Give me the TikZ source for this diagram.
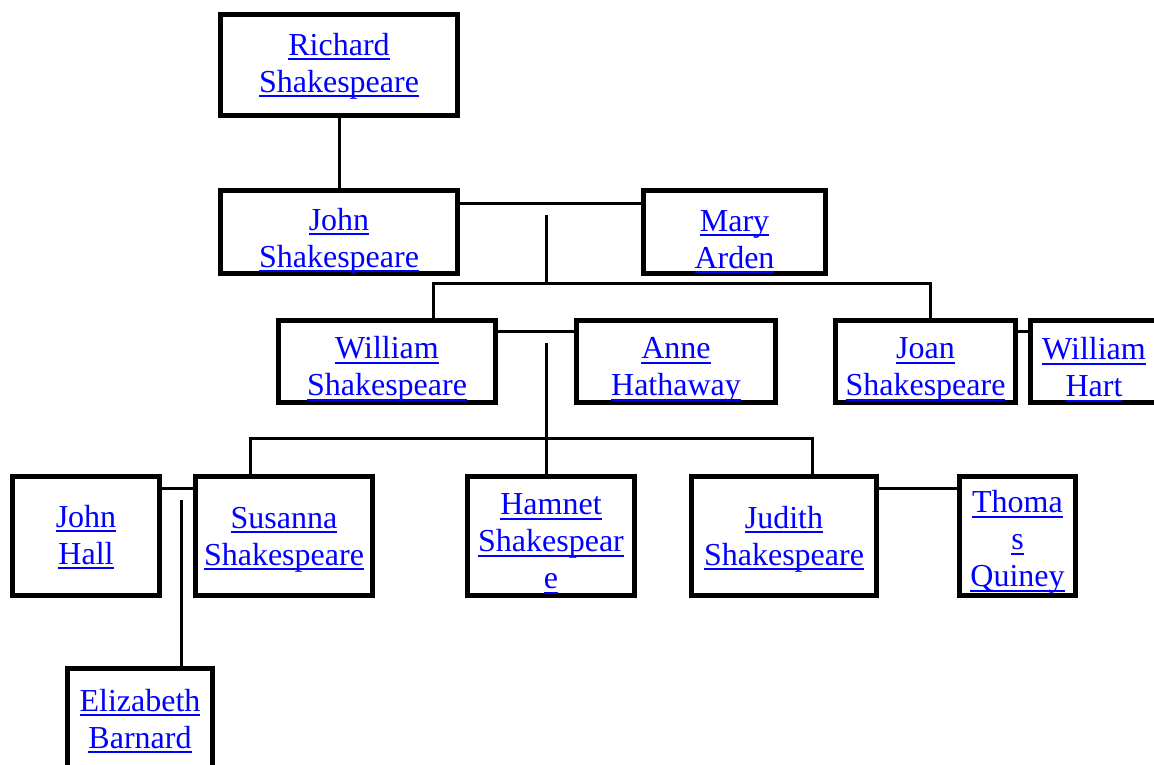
\documentclass[tikz,border=0pt]{standalone}
\usepackage{fontspec}
\setmainfont{Liberation Serif}

\tikzset{
  person/.style={draw,line width=5pt,align=center,text=blue,inner sep=0pt,
    font=\fontsize{32}{37}\selectfont},
  tie/.style={line width=3pt}
}
\newcommand{\lk}[1]{\setbox0\hbox{#1}\rlap{\rule[-5pt]{\wd0}{2pt}}\box0}
\newcommand{\topgap}[1]{\rule{0pt}{#1pt}}

\begin{document}
\begin{tikzpicture}[x=1pt,y=-1pt]
  \useasboundingbox (0,0) rectangle (1154,765);
  % persons
  \node[person,minimum width=237pt,minimum height=101pt] (richard) at (339,65) {\topgap{24}\lk{Richard}\\\lk{Shakespeare}};
  \node[person,minimum width=237pt,minimum height=83pt] (john) at (339,232) {\topgap{40}\lk{John}\\\lk{Shakespeare}};
  \node[person,minimum width=182pt,minimum height=83pt] (mary) at (734.5,232) {\topgap{40}\lk{Mary}\\\lk{Arden}};
  \node[person,minimum width=217pt,minimum height=82pt] (william) at (387,361.5) {\topgap{38}\lk{William}\\\lk{Shakespeare}};
  \node[person,minimum width=199pt,minimum height=82pt] (anne) at (676,361.5) {\topgap{38}\lk{Anne}\\\lk{Hathaway}};
  \node[person,minimum width=180pt,minimum height=82pt] (joan) at (925.5,361.5) {\topgap{38}\lk{Joan}\\\lk{Shakespeare}};
  \node[person,minimum width=127pt,minimum height=82pt] (hart) at (1094,361.5) {\topgap{38}\lk{William}\\\lk{Hart}};
  \node[person,minimum width=147pt,minimum height=119pt] (hall) at (86,536) {\topgap{24}\lk{John}\\\lk{Hall}};
  \node[person,minimum width=177pt,minimum height=119pt] (susanna) at (284,536) {\topgap{28}\lk{Susanna}\\\lk{Shakespeare}};
  \node[person,minimum width=167pt,minimum height=119pt] (hamnet) at (551,536) {\topgap{36}\lk{Hamnet}\\\lk{Shakespear}\\\lk{e}};
  \node[person,minimum width=185pt,minimum height=119pt] (judith) at (784,536) {\topgap{28}\lk{Judith}\\\lk{Shakespeare}};
  \node[person,minimum width=116pt,minimum height=119pt] (thomas) at (1017.5,536) {\topgap{34}\lk{Thoma}\\\lk{s}\\\lk{Quiney}};
  \node[person,minimum width=145pt,minimum height=104pt] (elizabeth) at (140,720) {\topgap{24}\lk{Elizabeth}\\\lk{Barnard}};
  % junctions
  \coordinate (jm) at (546,215);
  \coordinate (jmkids) at (546,283);
  \coordinate (wl) at (433,283);
  \coordinate (jr) at (930,283);
  \coordinate (wa) at (546,343);
  \coordinate (sl) at (250,438);
  \coordinate (jr2) at (812,438);
  \coordinate (hs) at (181,500);
  % lines
  \draw[tie] (richard) -- (john);
  \draw[tie] ([yshift=29pt]john.east) -- ([yshift=29pt]mary.west);
  \draw[tie] (jm) -- (jmkids);
  \draw[tie] (wl |- william.north) -- (wl) -- (jr) -- (jr |- joan.north);
  \draw[tie] ([yshift=30.5pt]william.east) -- ([yshift=30.5pt]anne.west);
  \draw[tie] ([yshift=30.5pt]joan.east) -- ([yshift=30.5pt]hart.west);
  \draw[tie] (wa) -- (wa |- hamnet.north);
  \draw[tie] (sl |- susanna.north) -- (sl) -- (jr2) -- (jr2 |- judith.north);
  \draw[tie] ([yshift=48pt]hall.east) -- ([yshift=48pt]susanna.west);
  \draw[tie] ([yshift=48pt]judith.east) -- ([yshift=48pt]thomas.west);
  \draw[tie] (hs) -- (hs |- elizabeth.north);
\end{tikzpicture}
\end{document}
